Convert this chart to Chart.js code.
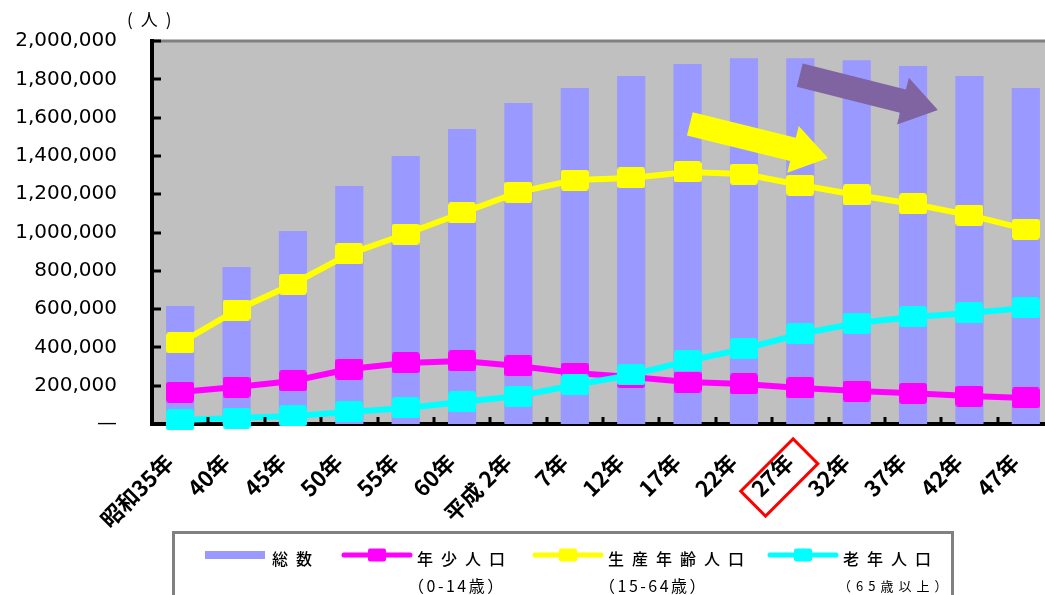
<!DOCTYPE html>
<html>
<head>
<meta charset="utf-8">
<script src="https://cdn.jsdelivr.net/npm/chart.js@4"></script>
<style>
html, body { margin: 0; padding: 0; overflow: hidden; background: #fff; }
canvas { display: block; }
</style>
</head>
<body>
<canvas id="chart" width="1070" height="595"></canvas>
<script>
// population by age group
var categories = ['昭和35年', '40年', '45年', '50年', '55年', '60年', '平成 2年', '7年',
  '12年', '17年', '22年', '27年', '32年', '37年', '42年', '47年'];
var total = [616000, 820000, 1008000, 1243000, 1400000, 1540000, 1676000, 1755000,
  1817000, 1880000, 1910000, 1910000, 1900000, 1870000, 1817000, 1755000];
var young = [167000, 193000, 225000, 287000, 319000, 329000, 303000, 266000,
  245000, 219000, 209000, 188000, 172000, 160000, 146000, 136000];
var working = [423000, 595000, 731000, 888000, 992000, 1102000, 1211000, 1274000,
  1285000, 1316000, 1305000, 1248000, 1196000, 1149000, 1091000, 1018000];
var elderly = [21000, 31000, 42000, 63000, 84000, 115000, 146000, 204000,
  256000, 329000, 392000, 470000, 527000, 559000, 580000, 606000];
var yTickLabels = ['—', '200,000', '400,000', '600,000', '800,000', '1,000,000',
  '1,200,000', '1,400,000', '1,600,000', '1,800,000', '2,000,000'];
var seriesNames = ['総数', '年少人口', '生産年齢人口', '老年人口'];
var seriesNotes = ['', '（0-14歳）', '（15-64歳）', '（65歳以上）'];
var unitLabel = '(人)';
var highlightIndex = 11; // 27年 gets the red box

// trend arrows, in data units (category index, people)
var trendArrows = [
  { from: [9.04, 1567000], to: [11.49, 1389000], colour: '#FFFF00' },
  { from: [10.99, 1822000], to: [13.44, 1640000], colour: '#8064A2' }
];

var BAR_COLOUR = '#9999FF';
var LINE_COLOURS = ['#FF00FF', '#FFFF00', '#00FFFF'];
var JP_FONT = '"Noto Sans CJK JP", "Noto Sans", sans-serif';

//rounded square markers like the excel ones
function make_marker(colour, w, h) {
  var c = document.createElement('canvas');
  c.width = w; c.height = h;
  var g = c.getContext('2d');
  g.fillStyle = colour;
  g.beginPath();
  g.roundRect(0, 0, w, h, 3);
  g.fill();
  return c;
}

function line_dataset(label, data, colour, order) {
  return {
    type: 'line',
    label: label,
    data: data,
    borderColor: colour,
    backgroundColor: colour,
    borderWidth: 6,
    tension: 0,
    pointStyle: make_marker(colour, 28, 21),
    pointRadius: 10,
    order: order,
    clip: false
  };
}

function draw_arrow(ctx, x1, y1, x2, y2, shaft, headW, headL, colour) {
  var a = Math.atan2(y2 - y1, x2 - x1);
  var len = Math.hypot(x2 - x1, y2 - y1);
  ctx.save();
  ctx.translate(x1, y1);
  ctx.rotate(a);
  ctx.beginPath();
  ctx.moveTo(0, -shaft / 2);
  ctx.lineTo(len - headL, -shaft / 2);
  ctx.lineTo(len - headL, -headW / 2);
  ctx.lineTo(len, 0);
  ctx.lineTo(len - headL, headW / 2);
  ctx.lineTo(len - headL, shaft / 2);
  ctx.lineTo(0, shaft / 2);
  ctx.closePath();
  ctx.fillStyle = colour;
  ctx.fill();
  ctx.restore();
}

var backdrop = {
  id: 'backdrop',
  beforeDraw: function (chart) {
    var a = chart.chartArea, ctx = chart.ctx;
    ctx.save();
    ctx.fillStyle = '#C0C0C0';
    ctx.fillRect(a.left, a.top, a.right - a.left, a.bottom - a.top);
    ctx.strokeStyle = '#808080';
    ctx.lineWidth = 3;
    ctx.beginPath();
    ctx.moveTo(a.left, a.top);
    ctx.lineTo(a.right, a.top);
    ctx.stroke();
    ctx.restore();
  }
};

var decorations = {
  id: 'decorations',
  afterDatasetsDraw: function (chart) {
    var ctx = chart.ctx, xs = chart.scales.x, ys = chart.scales.y;
    trendArrows.forEach(function (t) {
      draw_arrow(ctx, xs.getPixelForValue(t.from[0]), ys.getPixelForValue(t.from[1]),
        xs.getPixelForValue(t.to[0]), ys.getPixelForValue(t.to[1]), 24, 48, 36, t.colour);
    });
  },
  afterDraw: function (chart) {
    var ctx = chart.ctx, a = chart.chartArea, xs = chart.scales.x, ys = chart.scales.y;
    ctx.save();
    ctx.fillStyle = '#000';
    // inward ticks on the value axis
    ys.ticks.forEach(function (t) {
      var y = Math.round(ys.getPixelForValue(t.value));
      ctx.fillRect(a.left, y - 1.5, 9, 3);
    });
    // ticks between categories
    for (var i = 1; i < categories.length; i++) {
      var x = Math.round((xs.getPixelForTick(i - 1) + xs.getPixelForTick(i)) / 2);
      ctx.fillRect(x - 1.5, a.bottom - 7, 3, 7);
    }
    // unit
    ctx.font = '17px ' + JP_FONT;
    ctx.letterSpacing = '8px';
    ctx.textBaseline = 'middle';
    ctx.textAlign = 'left';
    ctx.fillText(unitLabel, 127, 20);
    ctx.letterSpacing = '0px';

    // red box round the current year
    var hx = xs.getPixelForTick(highlightIndex) - 21;
    var hy = a.bottom + 53.5;
    ctx.translate(hx, hy);
    ctx.rotate(-Math.PI / 4);
    ctx.strokeStyle = '#FF0000';
    ctx.lineWidth = 3;
    ctx.strokeRect(-37, -17.5, 74, 35);
    ctx.restore();

    draw_legend(ctx);
  }
};

function draw_legend(ctx) {
  ctx.save();
  ctx.fillStyle = '#fff';
  ctx.fillRect(173, 533, 779, 70);
  ctx.strokeStyle = '#808080';
  ctx.lineWidth = 3;
  ctx.strokeRect(173.5, 532.5, 779, 80);

  var swatchX = [205, 344, 535, 770];
  var textX = [272, 417, 608, 843];
  var rowY = 559;
  // bar swatch
  ctx.fillStyle = BAR_COLOUR;
  ctx.fillRect(swatchX[0], 551, 60, 8);
  // line swatches
  for (var i = 1; i < 4; i++) {
    var c = LINE_COLOURS[i - 1];
    ctx.strokeStyle = c;
    ctx.lineWidth = 5;
    ctx.lineCap = 'round';
    ctx.beginPath();
    ctx.moveTo(swatchX[i], 555);
    ctx.lineTo(swatchX[i] + 66, 555);
    ctx.stroke();
    ctx.fillStyle = c;
    ctx.beginPath();
    ctx.roundRect(swatchX[i] + 24, 548.5, 18, 13, 2);
    ctx.fill();
  }
  ctx.fillStyle = '#000';
  ctx.textBaseline = 'middle';
  ctx.textAlign = 'left';
  for (var j = 0; j < 4; j++) {
    ctx.font = '500 16px ' + JP_FONT;
    ctx.letterSpacing = '8px';
    ctx.fillText(seriesNames[j], textX[j], rowY);
    if (seriesNotes[j]) {
      if (j === 3) {
        ctx.font = '13px ' + JP_FONT;
        ctx.letterSpacing = '5px';
        ctx.fillText(seriesNotes[j], textX[j] - 5, 586);
      } else {
        ctx.font = '16px ' + JP_FONT;
        ctx.letterSpacing = '2.5px';
        ctx.fillText(seriesNotes[j], textX[j] - 9, 586);
      }
    }
  }
  ctx.restore();
}

var ctx = document.getElementById('chart').getContext('2d');
var chart = new Chart(ctx, {
  data: {
    labels: categories,
    datasets: [
      {
        type: 'bar',
        label: seriesNames[0],
        data: total,
        backgroundColor: BAR_COLOUR,
        barPercentage: 0.5,
        categoryPercentage: 1.0,
        order: 3
      },
      line_dataset(seriesNames[1], young, LINE_COLOURS[0], 2),
      line_dataset(seriesNames[2], working, LINE_COLOURS[1], 2),
      line_dataset(seriesNames[3], elderly, LINE_COLOURS[2], 1)
    ]
  },
  options: {
    responsive: false,
    animation: false,
    devicePixelRatio: 1,
    layout: { padding: { top: 41, right: 2, left: 0, bottom: 0 } },
    plugins: {
      legend: { display: false },
      tooltip: { enabled: false }
    },
    scales: {
      x: {
        offset: true,
        grid: { display: false, drawTicks: false },
        border: { display: true, color: '#000', width: 4 },
        ticks: {
          minRotation: 45,
          maxRotation: 45,
          autoSkip: false,
          padding: 25,
          labelOffset: -11,
          color: '#000',
          font: { family: JP_FONT, size: 22, weight: 'bold' }
        },
        afterFit: function (scale) {
          scale.height = 171;
          scale.paddingLeft = 0;
          scale.paddingRight = 0;
        }
      },
      y: {
        min: 0,
        max: 2000000,
        grid: { display: false, drawTicks: false },
        border: { display: true, color: '#000', width: 4 },
        ticks: {
          stepSize: 200000,
          padding: 35,
          color: '#000',
          font: { family: '"DejaVu Sans", sans-serif', size: 20 },
          callback: function (v, i) { return yTickLabels[i]; }
        },
        afterFit: function (scale) {
          scale.width = 152;
          scale.paddingTop = 0;
          scale.paddingBottom = 0;
        }
      }
    }
  },
  plugins: [backdrop, decorations]
});
</script>
</body>
</html>
